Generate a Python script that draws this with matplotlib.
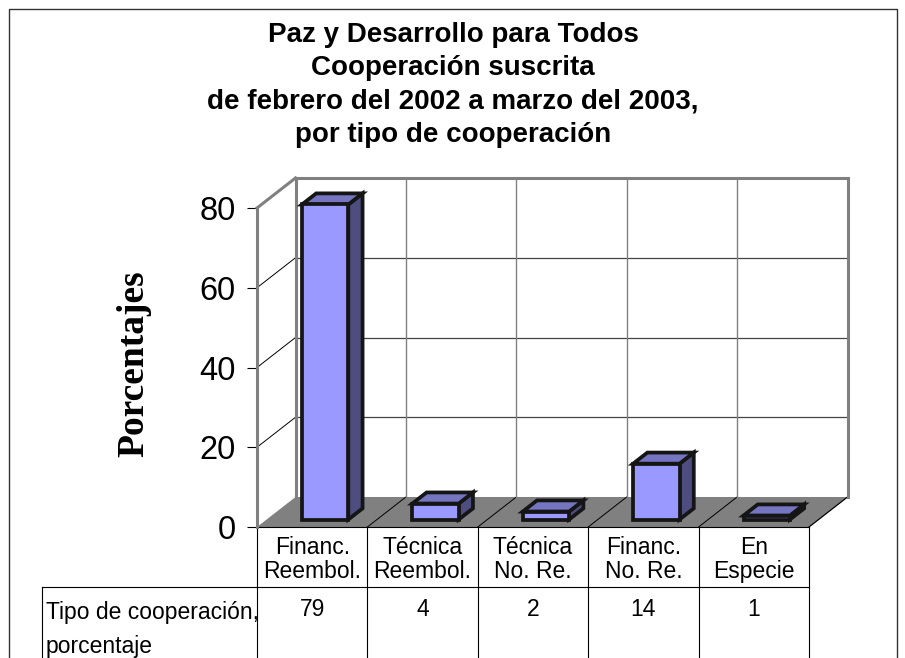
import matplotlib
matplotlib.use("Agg")
import matplotlib.pyplot as plt
from matplotlib.patches import Polygon

# ---------------- data ----------------
categories = ["Financ.\nReembol.", "Técnica\nReembol.", "Técnica\nNo. Re.",
              "Financ.\nNo. Re.", "En\nEspecie"]
values = [79, 4, 2, 14, 1]
series_name = "Tipo de cooperación,\nporcentaje"
y_ticks = [0, 20, 40, 60, 80]
y_label = "Porcentajes"
title_lines = ["Paz y Desarrollo para Todos",
               "Cooperación suscrita",
               "de febrero del 2002 a marzo del 2003,",
               "por tipo de cooperación"]

# ---------------- layout ----------------
W, H = 905, 658
X0, CAT = 257.0, 110.4      # px of category 0 / px per category
Y0, VAL = 527.0, 3.9875     # px (from top) of value 0 / px per value unit
DX, DY = 38.5 / CAT, 30.0 / VAL   # depth offset in data units
D0, D1 = 0.25, 0.62          # bar depth range (fraction of depth)
BW, BOFF = 0.42, 0.03        # bar width and offset (category units)
YMAX = y_ticks[-1]
n = len(categories)

def X(px):
    return (px - X0) / CAT

def V(py):
    return (Y0 - py) / VAL

SANS = ["Liberation Sans", "DejaVu Sans"]
GRAY = "#808080"

fig = plt.figure(figsize=(W / 100, H / 100), dpi=100)
ax = fig.add_axes([0, 0, 1, 1])
ax.set_xlim(X(0), X(W))
ax.set_ylim(V(H), V(0))
for s in ["top", "right", "bottom"]:
    ax.spines[s].set_visible(False)
ax.spines["left"].set_position(("data", 0))
ax.spines["left"].set_bounds(0, YMAX)
ax.spines["left"].set_color(GRAY)
ax.spines["left"].set_linewidth(2.2)
ax.spines["left"].set_zorder(4)
ax.set_xticks([])
ax.set_yticks(y_ticks)
ax.tick_params(axis="y", length=7.2, width=0.8, color="black", labelsize=23.5,
               pad=8.0)
for lab in ax.get_yticklabels():
    lab.set_fontfamily(SANS)

ax.set_ylabel(y_label, fontfamily=["Liberation Serif", "DejaVu Serif"],
              fontweight="bold", fontsize=27)
ax.yaxis.set_label_coords(133.5 / W, 1 - 364 / H)
ax.yaxis.label.set_va("center")

# ---------------- floor ----------------
floor = Polygon([(0, 0), (n, 0), (n + DX, DY), (DX, DY)], closed=True,
                facecolor=GRAY, edgecolor="none", zorder=1)
ax.add_patch(floor)
for i in range(1, n):
    ax.plot([i, i + DX], [0, DY], color="black", lw=0.7, zorder=2)
ax.plot([n, n + DX], [0, DY], color="black", lw=0.9, zorder=2)

# ---------------- walls ----------------
for v in y_ticks[1:-1]:
    ax.plot([0, DX], [v, v + DY], color="black", lw=0.7, zorder=2)
    ax.plot([DX, n + DX], [v + DY, v + DY], color="#444444", lw=0.9, zorder=2)
for i in range(1, n):
    ax.plot([i + DX, i + DX], [DY, YMAX + DY], color=GRAY, lw=1.0, zorder=2)
wall_edge = dict(color=GRAY, lw=2.2, zorder=3, solid_capstyle="projecting")
ax.plot([0, DX], [YMAX, YMAX + DY], **wall_edge)
ax.plot([DX, n + DX], [YMAX + DY, YMAX + DY], **wall_edge)
ax.plot([DX, DX], [DY, YMAX + DY], **wall_edge)
ax.plot([n + DX, n + DX], [DY, YMAX + DY], **wall_edge)

# ---------------- bars ----------------
FRONT, SIDE, TOP = "#9999FF", "#4D4D80", "#7575C2"
ex0, ey0 = D0 * DX, D0 * DY
ddx, ddy = (D1 - D0) * DX, (D1 - D0) * DY
for i, v in enumerate(values):
    x0 = i + 0.5 + BOFF - BW / 2 + ex0
    x1 = x0 + BW
    yb, yt = ey0, ey0 + v
    kw = dict(closed=True, edgecolor="#151515", lw=2.7, joinstyle="miter", zorder=5)
    ax.add_patch(Polygon([(x1, yb), (x1 + ddx, yb + ddy), (x1 + ddx, yt + ddy), (x1, yt)],
                         facecolor=SIDE, **kw))
    ax.add_patch(Polygon([(x0, yt), (x1, yt), (x1 + ddx, yt + ddy), (x0 + ddx, yt + ddy)],
                         facecolor=TOP, **kw))
    ax.add_patch(Polygon([(x0, yb), (x1, yb), (x1, yt), (x0, yt)],
                         facecolor=FRONT, **kw))

# ---------------- data table ----------------
tl = dict(color="black", lw=0.8, zorder=3, clip_on=False)
ax.plot([0, n], [V(527), V(527)], **tl)
for i in range(n + 1):
    ax.plot([i, i], [V(527), V(H + 2)], **tl)
ax.plot([X(42), n], [V(587), V(587)], **tl)
ax.plot([X(42), X(42)], [V(587), V(H + 2)], **tl)

for i, (cat, v) in enumerate(zip(categories, values)):
    parts = cat.split("\n")
    for k, part in enumerate(parts):
        ax.text(i + 0.5, V(548 + 23.5 * k), part, ha="center", va="center",
                fontsize=16.5, fontfamily=SANS, zorder=6)
    ax.text(i + 0.5, V(609), str(v), ha="center", va="center",
            fontsize=16.5, fontfamily=SANS, zorder=6)
for k, part in enumerate(series_name.split("\n")):
    ax.text(X(46), V(613 + 33 * k), part, ha="left", va="center",
            fontsize=16.5, fontfamily=SANS, zorder=6)

# ---------------- title ----------------
for k, line in enumerate(title_lines):
    fig.text(453 / W, 1 - (42 + 33.2 * k) / H, line, ha="center", va="baseline",
             fontsize=20, fontweight="bold", fontfamily=SANS)

# ---------------- chart border ----------------
ax.plot([X(9), X(9), X(897), X(897)], [V(H + 5), V(8.5), V(8.5), V(H + 5)],
        color="#333333", lw=1.0, zorder=1, clip_on=False)

fig.savefig("out.png", dpi=100)
